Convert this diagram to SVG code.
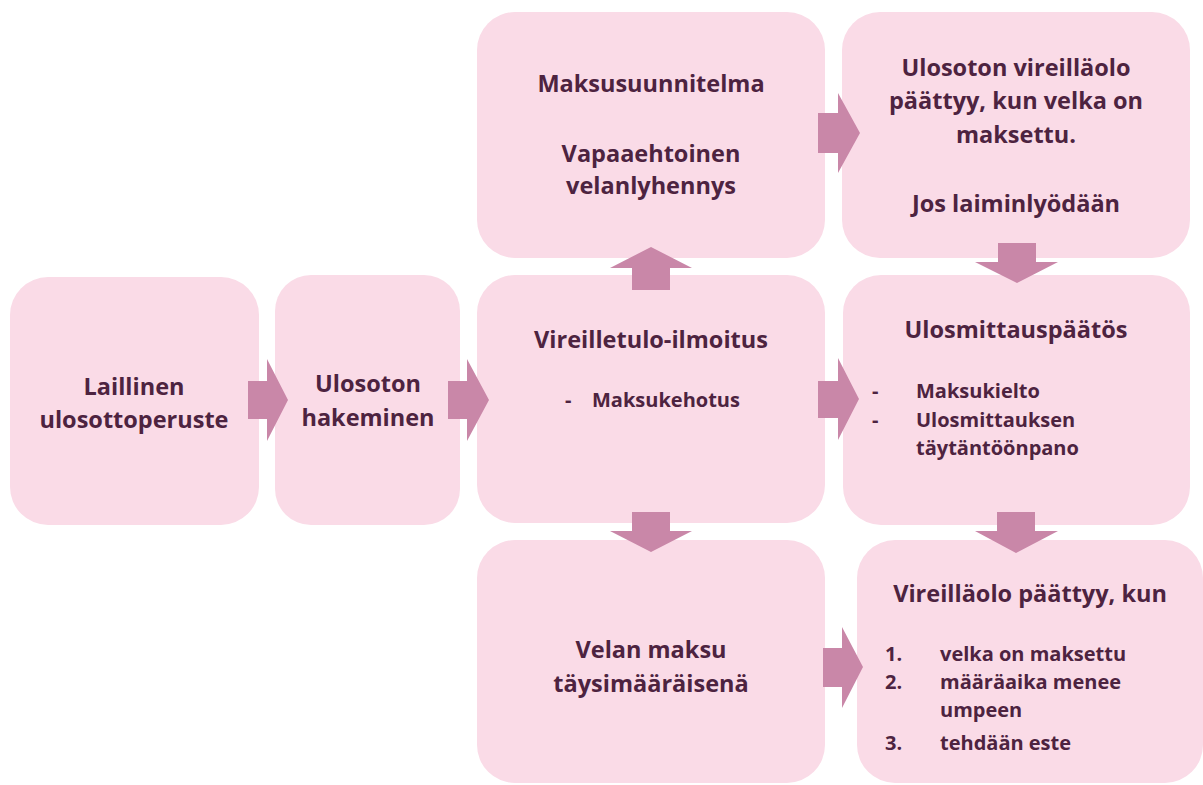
<svg xmlns="http://www.w3.org/2000/svg" width="1203" height="785" viewBox="0 0 1203 785">
<style>
.box{fill:#fadbe7;}
.arr{fill:#c987a8;}
text{font-family:"Open Sans",Lato,"Liberation Sans",sans-serif;font-weight:bold;fill:#4d2340;}
.h{font-size:23.5px;text-anchor:middle;}
.s{font-size:20px;}
</style>
<rect width="1203" height="785" fill="#ffffff"/>
<g id="n-laillinen">
<rect class="box" x="10" y="277" width="249" height="248" rx="38"/>
<text class="h" x="134" y="395">Laillinen</text>
<text class="h" x="134" y="428">ulosottoperuste</text>
</g>
<g id="n-hakeminen">
<rect class="box" x="275" y="275" width="185" height="250" rx="36"/>
<text class="h" x="368" y="392">Ulosoton</text>
<text class="h" x="368" y="426">hakeminen</text>
</g>
<g id="n-vireilletulo">
<rect class="box" x="477" y="275" width="348" height="248" rx="38"/>
<text class="h" x="651" y="348">Vireilletulo-ilmoitus</text>
<text class="s" x="565" y="407">-</text>
<text class="s" x="592" y="407">Maksukehotus</text>
</g>
<g id="n-maksusuunnitelma">
<rect class="box" x="477" y="12" width="348" height="246" rx="38"/>
<text class="h" x="651" y="92">Maksusuunnitelma</text>
<text class="h" x="651" y="162">Vapaaehtoinen</text>
<text class="h" x="651" y="194">velanlyhennys</text>
</g>
<g id="n-vireillaolo-paattyy">
<rect class="box" x="842" y="12" width="348" height="246" rx="38"/>
<text class="h" x="1016" y="76">Ulosoton vireilläolo</text>
<text class="h" x="1016" y="109">päättyy, kun velka on</text>
<text class="h" x="1016" y="143">maksettu.</text>
<text class="h" x="1016" y="212">Jos laiminlyödään</text>
</g>
<g id="n-ulosmittauspaatos">
<rect class="box" x="843" y="275" width="347" height="250" rx="38"/>
<text class="h" x="1016" y="338">Ulosmittauspäätös</text>
<text class="s" x="872" y="398">-</text>
<text class="s" x="916" y="398">Maksukielto</text>
<text class="s" x="872" y="427">-</text>
<text class="s" x="916" y="427">Ulosmittauksen</text>
<text class="s" x="916" y="455">täytäntöönpano</text>
</g>
<g id="n-velan-maksu">
<rect class="box" x="477" y="540" width="348" height="243" rx="38"/>
<text class="h" x="651" y="658">Velan maksu</text>
<text class="h" x="651" y="692">täysimääräisenä</text>
</g>
<g id="n-vireillaolo-kun">
<rect class="box" x="857" y="540" width="346" height="243" rx="38"/>
<text class="h" x="1030" y="602">Vireilläolo päättyy, kun</text>
<text class="s" x="885" y="661">1.</text>
<text class="s" x="940" y="661">velka on maksettu</text>
<text class="s" x="885" y="689">2.</text>
<text class="s" x="940" y="689">määräaika menee</text>
<text class="s" x="940" y="717">umpeen</text>
<text class="s" x="885" y="750">3.</text>
<text class="s" x="940" y="750">tehdään este</text>
</g>
<g id="connectors">
<polygon class="arr" points="248,381 267,381 267,359 288,400 267,441 267,419 248,419"/>
<polygon class="arr" points="448,381 467,381 467,359 489,400 467,441 467,419 448,419"/>
<polygon class="arr" points="818,381 838,381 838,358 859,399 838,440 838,418 818,418"/>
<polygon class="arr" points="818,113 838,113 838,93 860,133 838,173 838,153 818,153"/>
<polygon class="arr" points="823,648 842,648 842,627 863,667 842,708 842,687 823,687"/>
<polygon class="arr" points="632,290 632,268 610,268 651,247 692,268 670,268 670,290"/>
<polygon class="arr" points="632,512 670,512 670,531 692,531 651,552 610,531 632,531"/>
<polygon class="arr" points="998,243 1036,243 1036,262 1058,262 1017,283 975,262 998,262"/>
<polygon class="arr" points="997,512 1035,512 1035,531 1058,531 1016,553 975,531 997,531"/>
</g>
</svg>
